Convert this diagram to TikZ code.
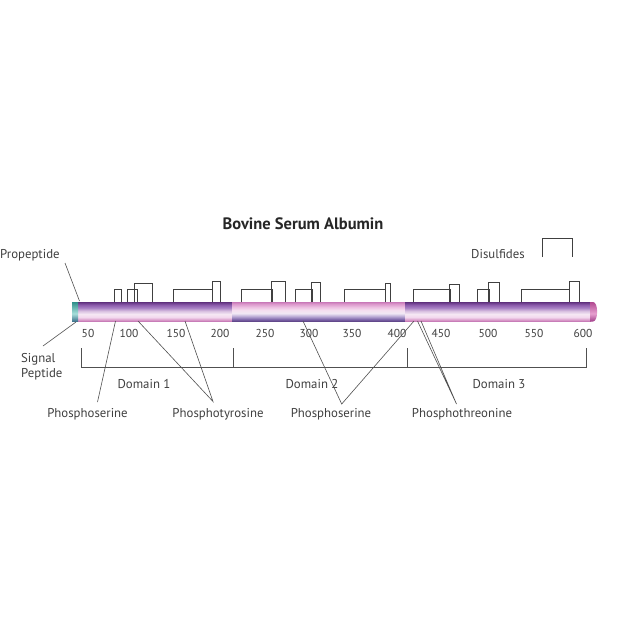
\documentclass[tikz,border=0pt]{standalone}
\usepackage{fontspec}
\setmainfont{PT Sans}
\definecolor{txt}{HTML}{404040}
\definecolor{ln}{HTML}{505050}
\definecolor{a0}{HTML}{C070B0}\definecolor{a1}{HTML}{D898C8}\definecolor{a2}{HTML}{F2D8EE}\definecolor{a3}{HTML}{F6E8F4}
\definecolor{a4}{HTML}{D8C0E0}\definecolor{a5}{HTML}{A880C4}\definecolor{a6}{HTML}{8A5AAA}\definecolor{a7}{HTML}{5E2F7C}
\definecolor{b0}{HTML}{5A3F82}\definecolor{b1}{HTML}{7A62A6}\definecolor{b2}{HTML}{B8A8D4}\definecolor{b3}{HTML}{F0E8F4}
\definecolor{b4}{HTML}{F6E0F0}\definecolor{b5}{HTML}{ECC0E2}\definecolor{b6}{HTML}{DC98CC}\definecolor{b7}{HTML}{C878B8}
\definecolor{t0}{HTML}{2F8F8A}\definecolor{t1}{HTML}{A8E0DC}\definecolor{t2}{HTML}{3A6F8A}
\definecolor{r0}{HTML}{B04890}\definecolor{r1}{HTML}{E8A0D0}\definecolor{r2}{HTML}{A03C88}
\pgfdeclareverticalshading{domA}{100bp}{color(0bp)=(a0); color(25bp)=(a0); color(29bp)=(a1); color(36bp)=(a2); color(44bp)=(a3); color(52bp)=(a4); color(60bp)=(a5); color(68bp)=(a6); color(75bp)=(a7); color(100bp)=(a7)}
\pgfdeclareverticalshading{domB}{100bp}{color(0bp)=(b0); color(25bp)=(b0); color(30bp)=(b1); color(38bp)=(b2); color(46bp)=(b3); color(54bp)=(b4); color(62bp)=(b5); color(70bp)=(b6); color(75bp)=(b7); color(100bp)=(b7)}
\pgfdeclareverticalshading{capL}{100bp}{color(0bp)=(t2); color(25bp)=(t2); color(45bp)=(t1); color(75bp)=(t0); color(100bp)=(t0)}
\pgfdeclareverticalshading{capR}{100bp}{color(0bp)=(r2); color(25bp)=(r2); color(45bp)=(r1); color(75bp)=(r0); color(100bp)=(r0)}
\begin{document}
\begin{tikzpicture}[x=1pt,y=-1pt,
  lbl/.style={font=\fontsize{12.8}{15}\selectfont, text=txt, inner sep=0pt},
  num/.style={font=\fontsize{11.5}{13}\selectfont, text=txt, inner sep=0pt},
  leader/.style={draw=ln, line width=0.6pt},
  ss/.style={draw=black!75, line width=0.6pt}]
\useasboundingbox (0,0) rectangle (640,640);
\fill[white] (0,0) rectangle (640,640);

% title
\node[font=\fontsize{16.5}{18}\selectfont\bfseries, text=black!85, inner sep=0pt] (title) at (303,224) {Bovine Serum Albumin};

% bar
\shade[shading=domA] (78,302) rectangle (232,321.5);
\shade[shading=domB] (232,302) rectangle (405,321.5);
\shade[shading=domA] (405,302) rectangle (591,321.5);
\shade[shading=capR] (590,302) -- (593,302) .. controls (598.5,302) and (598.5,321.5) .. (593,321.5) -- (590,321.5) -- cycle;
\shade[shading=capL] (72,302) rectangle (78,321.5);

% disulfide brackets
\foreach \a/\b/\t in {114.3/121.5/289.3, 127/137.3/289.3, 134.2/152.3/283.3, 173.3/212.7/289.3, 212.7/220.7/281,
  241.7/272.3/289.3, 271.7/285/281.7, 295.7/312.3/289.3, 311.7/320.7/282.3, 344/385.7/289.3, 385.7/390.7/283.3,
  412.9/450/289.3, 449/459/284.3, 477.3/489.3/289.3, 488.3/499.3/282.7, 521.7/569.3/289.3, 569/579.3/281.7}
  \draw[ss] (\a,302) -- (\a,\t) -- (\b,\t) -- (\b,302);

% disulfide legend
\node[lbl] (dis) at (498,254) {Disulfides};
\draw[ss] (542.7,257) -- (542.7,238.3) -- (572.3,238.3) -- (572.3,257);

% tick numbers
\foreach \n/\x in {50/88,100/129,150/176,200/220,250/265,300/309,350/352,400/397,450/441,500/488,550/534,600/583}
  \node[num] (n\n) at (\x,333) {\n};

% domain bracket
\draw[leader] (81.7,348) -- (81.7,367) -- (586.7,367) -- (586.7,348);
\draw[leader] (233.3,348) -- (233.3,367);
\draw[leader] (407.3,348) -- (407.3,367);
\node[lbl] (d1) at (144,384) {Domain 1};
\node[lbl] (d2) at (312,384) {Domain 2};
\node[lbl] (d3) at (499,384) {Domain 3};

% side labels
\node[lbl, anchor=west] (pro) at (0,255) {Propeptide};
\node[lbl, align=left, anchor=west, font=\fontsize{12.8}{15.5}\selectfont] (sig) at (21,366.5) {Signal\\Peptide};
\coordinate (proA) at (65,263);
\coordinate (proB) at (79.5,301);
\draw[leader] (proA) -- (proB);
\coordinate (sigA) at (43,346);
\coordinate (sigB) at (76,322);
\draw[leader] (sigA) -- (sigB);

% bottom labels
\node[lbl] (ps1) at (87.5,414) {Phosphoserine};
\node[lbl] (pty) at (218,414) {Phosphotyrosine};
\node[lbl] (ps2) at (331,414) {Phosphoserine};
\node[lbl] (pth) at (462,414) {Phosphothreonine};

\coordinate (ps1a) at (97.5,402);
\coordinate (ps1b) at (115.5,321);
\draw[leader] (ps1a) -- (ps1b);

\coordinate (ptya) at (213,401.5);
\coordinate (ptyb) at (138,321);
\coordinate (ptyc) at (185,321);
\draw[leader] (ptyb) -- (ptya) -- (ptyc);

\coordinate (ps2a) at (341.7,404);
\coordinate (ps2b) at (303,321);
\coordinate (ps2c) at (414,321);
\draw[leader] (ps2b) -- (ps2a) -- (ps2c);

\coordinate (ptha) at (456.5,404);
\coordinate (pthb) at (417.5,321);
\coordinate (pthc) at (421,321);
\draw[leader] (pthb) -- (ptha) -- (pthc);
\end{tikzpicture}
\end{document}
